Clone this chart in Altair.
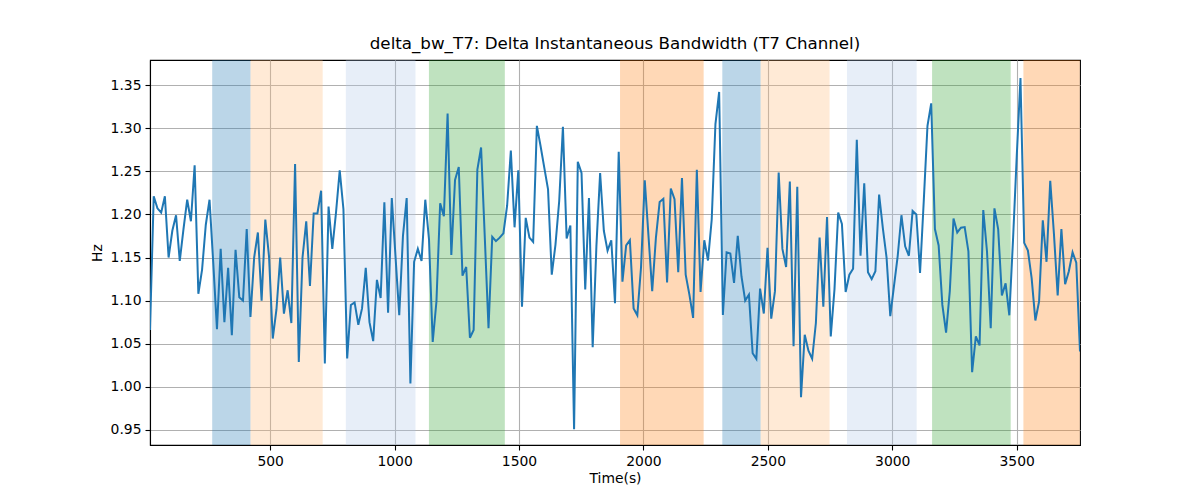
import altair as alt
import pandas as pd

# sample values (Hz), one every ~15 s
bandwidth = [
    1.066, 1.221, 1.207, 1.202, 1.221, 1.150, 1.181, 1.199, 1.146, 1.183,
    1.217, 1.192, 1.257, 1.108, 1.136, 1.188, 1.217, 1.144, 1.067, 1.160,
    1.075, 1.138, 1.060, 1.159, 1.104, 1.100, 1.183, 1.081, 1.150, 1.179,
    1.100, 1.194, 1.151, 1.056, 1.090, 1.150, 1.085, 1.112, 1.074, 1.2585,
    1.029, 1.150, 1.192, 1.117,
    1.201, 1.201, 1.2275, 1.027, 1.209, 1.160, 1.202, 1.251, 1.206, 1.033,
    1.095, 1.098, 1.072, 1.091, 1.138, 1.075, 1.053, 1.124, 1.103, 1.214,
    1.086, 1.219, 1.151, 1.083, 1.175, 1.219, 1.004, 1.145, 1.160, 1.146,
    1.217, 1.171, 1.052, 1.099, 1.213, 1.198, 1.317, 1.153, 1.240, 1.255,
    1.129,
    1.139, 1.057, 1.066, 1.252, 1.2775, 1.173, 1.068, 1.174, 1.169, 1.173,
    1.178, 1.210, 1.274, 1.185, 1.251, 1.093, 1.196, 1.173, 1.168, 1.3027,
    1.279, 1.254, 1.229, 1.130, 1.165, 1.2155, 1.3015, 1.172, 1.187, 0.951,
    1.261, 1.248, 1.113, 1.219, 1.046, 1.163, 1.248, 1.181, 1.158, 1.170,
    1.097, 1.2725,
    1.122, 1.164, 1.170, 1.091, 1.083, 1.139, 1.2395, 1.175, 1.111, 1.173,
    1.2143, 1.218, 1.121, 1.230, 1.2175, 1.133, 1.242, 1.130, 1.107, 1.080,
    1.2516, 1.110, 1.170, 1.1465, 1.194, 1.3047, 1.342, 1.0833, 1.156, 1.1547,
    1.1206, 1.175, 1.128, 1.100, 1.107, 1.039, 1.0325, 1.114, 1.085, 1.1612,
    1.079,
    1.111, 1.2484, 1.160, 1.139, 1.238, 1.047, 1.232, 0.988, 1.0605, 1.042,
    1.0326, 1.074, 1.173, 1.093, 1.197, 1.0585, 1.113, 1.202, 1.189, 1.110,
    1.130, 1.137, 1.2864, 1.152, 1.236, 1.133, 1.125, 1.134, 1.223, 1.184,
    1.150, 1.082, 1.117, 1.152, 1.199, 1.163, 1.152, 1.204, 1.200, 1.132,
    1.2155, 1.3027,
    1.3287, 1.183, 1.164, 1.095, 1.063, 1.111, 1.1953, 1.179, 1.1845, 1.1853,
    1.157, 1.017, 1.0585, 1.048, 1.205, 1.157, 1.068, 1.207, 1.183, 1.106,
    1.120, 1.083, 1.171, 1.268, 1.358, 1.167, 1.158, 1.126, 1.077, 1.099,
    1.193, 1.145, 1.239, 1.177, 1.106, 1.183, 1.119, 1.134, 1.156, 1.144,
    1.041,
]
t_start = 17.0
t_step = 14.95
times = [round(t_start + i * t_step, 2) for i in range(len(bandwidth))]

# shaded segments
band_start = [267, 421, 804, 1138, 1906, 2317, 2471, 2818, 3160, 3527]
band_end = [421, 711, 1084, 1443, 2242, 2471, 2748, 3098, 3476, 3754]
band_color = ['#1f77b4', '#ffbb78', '#aec7e8', '#2ca02c', '#ff7f0e',
              '#1f77b4', '#ffbb78', '#aec7e8', '#2ca02c', '#ff7f0e']

x_ticks = [500, 1000, 1500, 2000, 2500, 3000, 3500]
y_ticks = [0.95, 1.0, 1.05, 1.1, 1.15, 1.2, 1.25, 1.3, 1.35]

df = pd.DataFrame({'time': times, 'bw': bandwidth})
bands = pd.DataFrame({'start': band_start, 'end': band_end, 'color': band_color})

x_scale = alt.Scale(domain=[times[0], times[-1]], nice=False, zero=False)
y_scale = alt.Scale(domain=[0.9326, 1.379], nice=False, zero=False)

rects = alt.Chart(bands).mark_rect(opacity=0.3).encode(
    x=alt.X('start:Q', scale=x_scale),
    x2='end:Q',
    color=alt.Color('color:N', scale=None),
)

line = alt.Chart(df).mark_line(color='#1f77b4', strokeWidth=2, clip=True).encode(
    x=alt.X('time:Q', scale=x_scale, title='Time(s)',
            axis=alt.Axis(values=x_ticks, format='d')),
    y=alt.Y('bw:Q', scale=y_scale, title='Hz',
            axis=alt.Axis(values=y_ticks, format='.2f')),
)

chart = (rects + line).properties(
    width=930,
    height=385,
    title=alt.TitleParams('delta_bw_T7: Delta Instantaneous Bandwidth (T7 Channel)',
                          fontSize=16.7, fontWeight='normal', font='DejaVu Sans',
                          color='black', offset=7),
    autosize=alt.AutoSizeParams(type='none'),
    padding={'left': 142, 'top': 52, 'right': 112, 'bottom': 47},
).configure_view(
    stroke='black', strokeWidth=1.1
).configure_axis(
    grid=True, gridColor='#b0b0b0', gridWidth=1.1,
    domainColor='black', domainWidth=1.1, tickColor='black', tickWidth=1.1,
    tickSize=5, labelPadding=4,
    labelFont='DejaVu Sans', labelFontSize=13.9, labelColor='black',
    titleFont='DejaVu Sans', titleFontSize=13.9, titleFontWeight='normal',
    titleColor='black',
).configure_axisX(
    titlePadding=4
).configure_axisY(
    titlePadding=6
)

chart.save("out.html", embed_options={"renderer": "svg", "actions": False})
